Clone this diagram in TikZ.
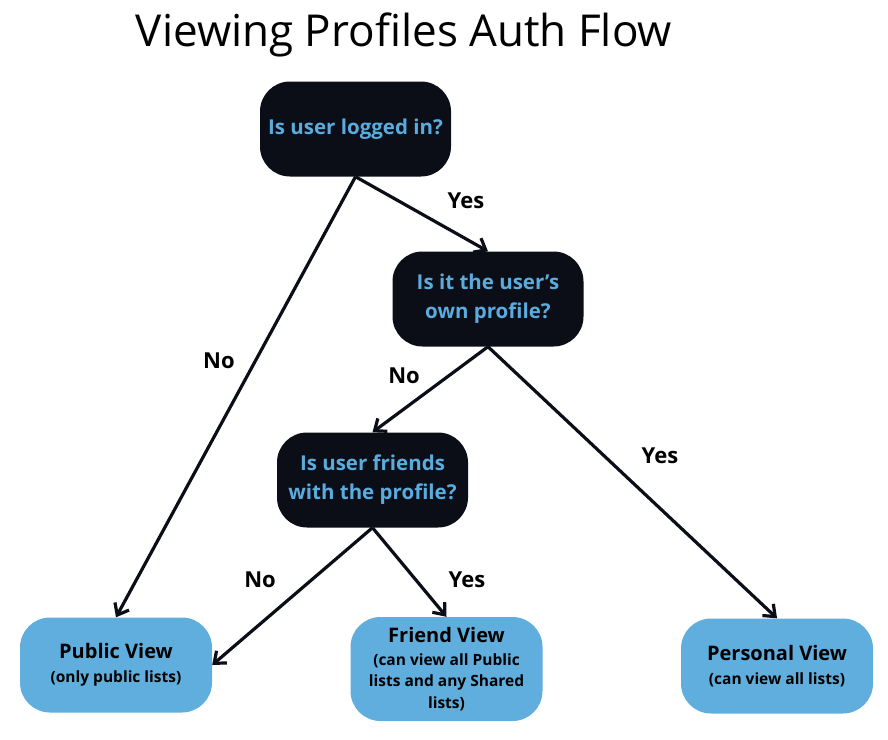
\documentclass[tikz,border=0pt]{standalone}
\usepackage{fontspec}
\setmainfont{Open Sans}
\usetikzlibrary{arrows.meta}
\definecolor{darkbox}{RGB}{11,13,23}
\definecolor{qtext}{RGB}{90,172,222}
\definecolor{lightbox}{RGB}{95,174,222}
\newcommand{\bigline}[1]{{\fontsize{20}{24}\selectfont #1}}
\tikzset{
  question/.style={fill=darkbox, rounded corners=30pt, minimum width=191pt, minimum height=95pt, text=qtext, font=\fontsize{20.5}{29}\selectfont\bfseries, align=center, inner sep=0pt},
  result/.style={fill=lightbox, rounded corners=30pt, minimum width=192pt, minimum height=95pt, text=black, align=center, inner sep=0pt, font=\fontsize{15.5}{21.5}\selectfont\bfseries},
  conn/.style={line width=3.2pt, draw=darkbox, -{Straight Barb[length=10pt,width=16pt,line width=3.2pt]}},
  lbl/.style={font=\fontsize{22}{26}\selectfont\bfseries, text=black},
}
\begin{document}
\begin{tikzpicture}[x=1pt,y=-1pt]
\useasboundingbox (0,0) rectangle (888,739);
\node[font=\fontsize{44}{50}\selectfont, anchor=base] (title) at (404,46) {Viewing Profiles Auth Flow};
\node[question] (q1) at (355.5,129) {Is user logged in?};
\node[question] (q2) at (488,299) {Is it the user's\\own profile?};
\node[question] (q3) at (372.5,480) {Is user friends\\with the profile?};
\node[result] (pub) at (116,665) {\bigline{Public View}\\[2pt](only public lists)};
\node[result, minimum height=104pt] (fr) at (446.5,669) {\bigline{Friend View}\\[1pt](can view all Public\\lists and any Shared\\lists)};
\node[result] (per) at (777,666) {\bigline{Personal View}\\[2pt](can view all lists)};
\draw[conn] (q1.south) -- (pub.north);
\draw[conn] (q1.south) -- (q2.north);
\draw[conn] (q2.south) -- (q3.north);
\draw[conn] (q2.south) -- (per.north);
\draw[conn] (q3.south) -- (pub.east);
\draw[conn] (q3.south) -- (fr.north);
\node[lbl] (l1) at (219,361) {No};
\node[lbl] (l2) at (466,201) {Yes};
\node[lbl] (l3) at (404,376) {No};
\node[lbl] (l4) at (660,456) {Yes};
\node[lbl] (l5) at (260,580) {No};
\node[lbl] (l6) at (467,580) {Yes};
\end{tikzpicture}
\end{document}
